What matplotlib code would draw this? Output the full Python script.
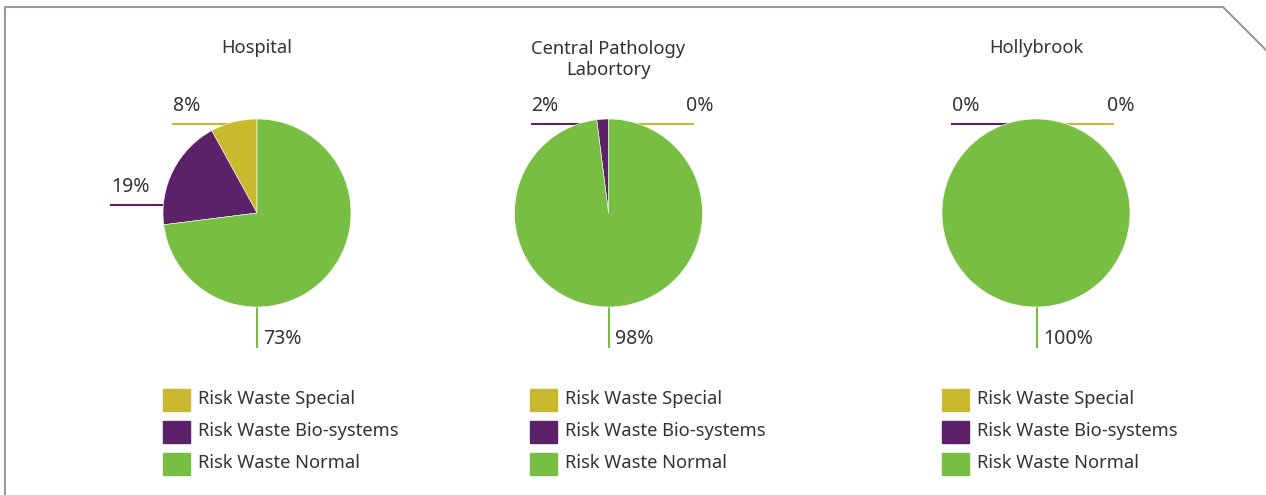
import matplotlib
matplotlib.use("Agg")
import matplotlib.pyplot as plt
from matplotlib.patches import Rectangle

plt.rcParams['font.family'] = ['Noto Sans', 'DejaVu Sans']

# data
titles = ['Hospital', 'Central Pathology\nLabortory', 'Hollybrook']
categories = ['Risk Waste Special', 'Risk Waste Bio-systems', 'Risk Waste Normal']
hospital = [8, 19, 73]
central = [0, 2, 98]
hollybrook = [0, 0, 100]
values = [hospital, central, hollybrook]

colors = ['#C8B92E', '#5B2269', '#78BE43']
text_col = '#333333'

# layout (pixel coords)
centers = [(257, 213), (608.5, 213), (1036, 213)]
radius = 94
legend_x = [163, 530, 942]
# leader lines per slice: (x0, x1, y0, y1) offsets from centre, label side
leaders = [
    [(-84, -22, -89, -89, 'left'), (-146, -92, -8, -8, 'left'), (0, 0, 94, 134, 'down')],
    [(12, 84, -89, -89, 'right'), (-77, -8, -89, -89, 'left'), (0, 0, 94, 134, 'down')],
    [(6, 77, -89, -89, 'right'), (-84, -14, -89, -89, 'left'), (1, 1, 94, 134, 'down')],
]

fig = plt.figure(figsize=(12.66, 4.95), dpi=100)
ax = fig.add_axes([0, 0, 1, 1])

for i in range(3):
    cx, cy = centers[i]
    ax.pie(values[i], colors=colors, center=(cx, cy), radius=radius,
           startangle=-90, counterclock=False,
           wedgeprops=dict(linewidth=0.4, edgecolor='white', zorder=3))
    ty = 59.5 if '\n' in titles[i] else 48
    ax.text(cx, ty, titles[i], ha='center', va='center',
            fontsize=13.2, color=text_col, linespacing=1.25)
    for j, (x0, x1, y0, y1, side) in enumerate(leaders[i]):
        ax.plot([cx + x0, cx + x1], [cy + y0, cy + y1], color=colors[j], lw=1.5, zorder=2)
        lab = '%d%%' % values[i][j]
        if side == 'left':
            ax.text(cx + x0, cy + y0 - 18, lab, ha='left', va='center',
                    fontsize=14, color=text_col)
        elif side == 'right':
            ax.text(cx + x1 + 21, cy + y0 - 18, lab, ha='right', va='center',
                    fontsize=14, color=text_col)
        else:
            ax.text(cx + x0 + 6, cy + y1 - 8, lab, ha='left', va='center',
                    fontsize=14, color=text_col)
    # legend
    for j, cat in enumerate(categories):
        y = 389 + 32 * j
        ax.add_patch(Rectangle((legend_x[i], y), 27, 22, color=colors[j]))
        ax.text(legend_x[i] + 35, y + 10, cat, ha='left', va='center',
                fontsize=13.2, color=text_col)

# frame with cut corner
ax.plot([5, 5, 1223, 1266], [495, 7, 7, 50], color='#9a9a9a', lw=1.5,
        solid_joinstyle='miter')

ax.set_xlim(0, 1266)
ax.set_ylim(495, 0)
ax.set_aspect('equal')
ax.axis('off')

fig.savefig('out.png', dpi=100)
